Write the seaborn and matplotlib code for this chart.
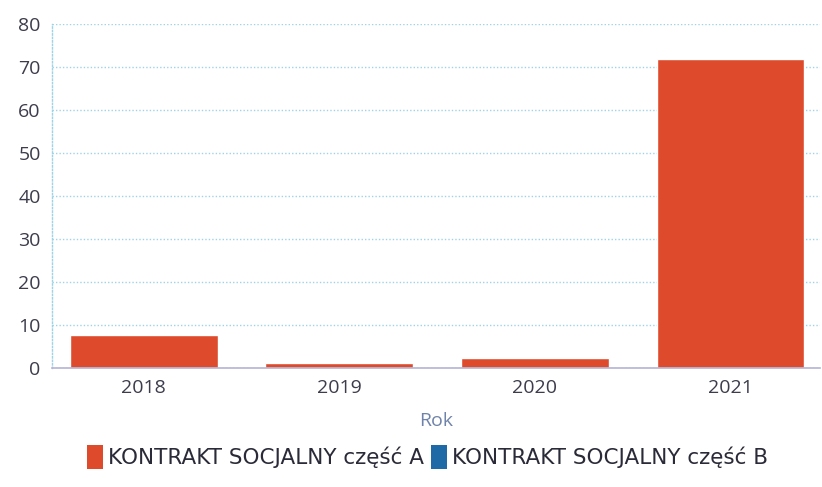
import matplotlib
matplotlib.use("Agg")
import matplotlib.pyplot as plt
import seaborn as sns
import pandas as pd
from matplotlib.patches import Patch

years = ["2018", "2019", "2020", "2021"]
part_a = [7.6, 1.2, 2.3, 72.0]
part_b = [0.0, 0.0, 0.0, 0.0]
series_names = ["KONTRAKT SOCJALNY część A", "KONTRAKT SOCJALNY część B"]
y_ticks = [0, 10, 20, 30, 40, 50, 60, 70, 80]

color_a = "#DE4A2C"
color_b = "#1E6AA6"

df = pd.DataFrame({
    "Rok": years * 2,
    "value": part_a + part_b,
    "series": [series_names[0]] * len(years) + [series_names[1]] * len(years),
})

sns.set_style("white")
plt.rcParams['font.family'] = ['Open Sans', 'DejaVu Sans']

fig = plt.figure(figsize=(8.22, 4.87), dpi=100)
ax = fig.add_axes([0.063, 0.245, 0.935, 0.705])

sns.barplot(data=df, x="Rok", y="value", hue="series",
            palette=[color_a, color_b], dodge=False, width=0.755,
            ax=ax, legend=False, saturation=1)

ax.set_ylim(0, 80)
ax.set_xlim(-0.47, 3.46)
ax.set_yticks(y_ticks)
ax.yaxis.grid(True, linestyle=(0, (1, 1.5)), color="#9fd3e6", linewidth=1.0)
ax.set_axisbelow(True)

for s in ["top", "right"]:
    ax.spines[s].set_visible(False)
ax.spines["left"].set_linestyle((0, (1, 1.5)))
ax.spines["left"].set_color("#9fd3e6")
ax.spines["left"].set_linewidth(1.0)
ax.spines["bottom"].set_color("#b4b4d4")
ax.spines["bottom"].set_linewidth(1.2)

ax.tick_params(axis="both", length=0, labelsize=14, labelcolor="#3c3c4c")
ax.tick_params(axis="x", pad=8)
ax.tick_params(axis="y", pad=8)
ax.set_ylabel("")
ax.set_xlabel("Rok", fontsize=14, color="#6f83aa", labelpad=11)

handles = [Patch(facecolor=color_a, edgecolor="none"),
           Patch(facecolor=color_b, edgecolor="none")]
fig.legend(handles, series_names, loc="center", bbox_to_anchor=(0.52, 0.062),
           ncol=2, frameon=False, handlelength=0.75,
           handleheight=1.3, handletextpad=0.25, columnspacing=0.3,
           labelcolor="#2a2a38",
           prop={"family": ["DejaVu Sans"], "size": 15.5})

fig.savefig("out.png", dpi=100)
